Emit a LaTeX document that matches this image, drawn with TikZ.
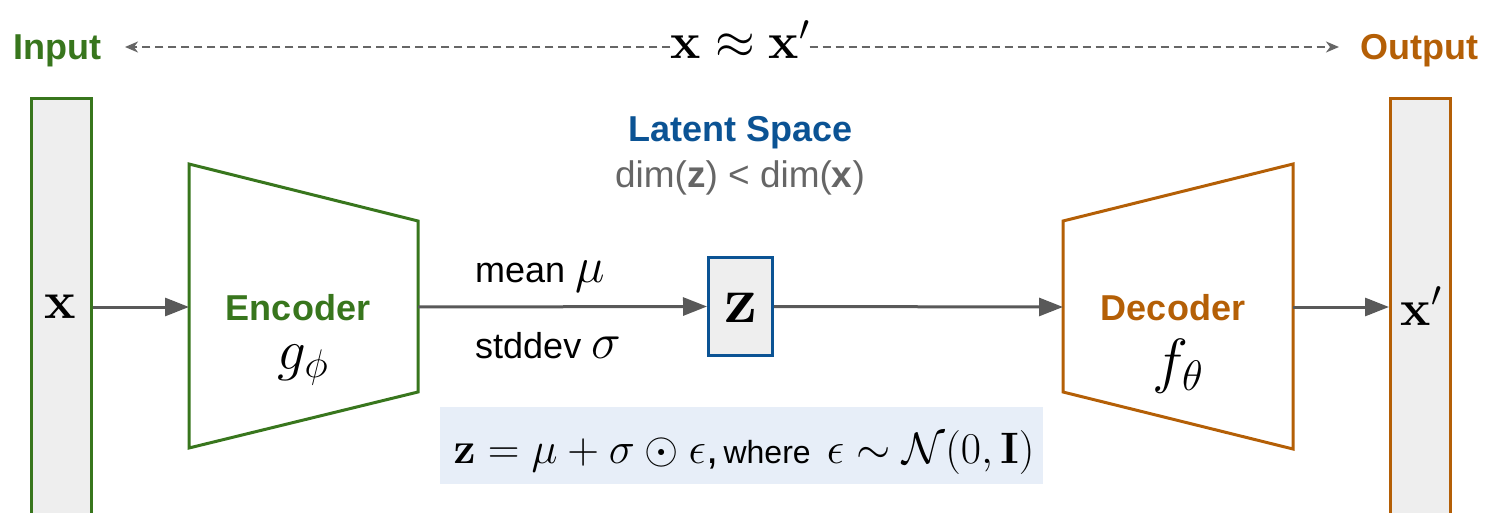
\documentclass[tikz,border=0pt]{standalone}
\usepackage{fix-cm}
\usepackage[no-math]{fontspec}
\setmainfont{Liberation Sans}
\usetikzlibrary{arrows.meta}
\definecolor{encgreen}{HTML}{38761D}
\definecolor{decorange}{HTML}{B45F06}
\definecolor{latblue}{HTML}{0B5394}
\definecolor{arrgray}{HTML}{595959}
\definecolor{txtgray}{HTML}{666666}
\definecolor{barfill}{HTML}{EEEEEE}
\definecolor{eqfill}{HTML}{E7EEF8}
\newcommand{\fsz}[1]{\fontsize{#1}{#1}\selectfont}
\tikzset{
  bar/.style={fill=barfill, line width=3pt, minimum width=60pt, minimum height=431pt, inner sep=0pt},
  arr/.style={draw=arrgray, line width=3pt, -{Triangle[length=24pt,width=18pt]}},
  dasharr/.style={draw=txtgray, line width=2pt, dash pattern=on 8pt off 5pt, -{Stealth[length=13pt,width=11pt,inset=4pt]}},
  lbl/.style={inner sep=0pt, anchor=base},
  coder/.style={line width=3pt, line join=miter}
}
\begin{document}
\begin{tikzpicture}[x=1pt,y=-1pt]
\path[use as bounding box] (0,0) rectangle (1485,513);
\clip (0,0) rectangle (1485,513);

% top row
\node[lbl, text=encgreen] (inlab) at (57,60) {\fsz{36}\bfseries Input};
\node[lbl, text=decorange] (outlab) at (1419,60) {\fsz{36}\bfseries Output};
\node[lbl] (xeq) at (740,59) {\fsz{51}$\mathbf{x}\approx\mathbf{x}'$};
\coordinate (dl) at (125,47);
\coordinate (dr) at (1339,47);
\draw[dasharr] (xeq.west |- dl) -- (dl);
\draw[dasharr] (xeq.east |- dr) -- (dr);

% bars
\node[bar, draw=encgreen] (inbar) at (61,314.5) {};
\node[bar, draw=decorange] (outbar) at (1420.5,314.5) {};
\node[lbl] (xin) at (60,318) {\fsz{53}$\mathbf{x}$};
\node[lbl] (xout) at (1421,325) {\fsz{51}$\mathbf{x}'$};

% encoder
\coordinate (encW) at (189,307);
\coordinate (encE) at (418,307);
\draw[coder, draw=encgreen] (189,164) -- (418,221) -- (418,392) -- (189,448) -- cycle;
\node[lbl, text=encgreen] (enclab) at (298,320) {\fsz{36}\bfseries Encoder};
\node[lbl] (gphi) at (303,369) {\fsz{57}$g_\phi$};

% decoder
\coordinate (decW) at (1063,307);
\coordinate (decE) at (1293,307);
\draw[coder, draw=decorange] (1063,221) -- (1293,164) -- (1293,449) -- (1063,392) -- cycle;
\node[lbl, text=decorange] (declab) at (1173,320) {\fsz{36}\bfseries Decoder};
\node[lbl] (ftheta) at (1178,381) {\fsz{61}$f_\theta$};

% latent
\node[draw=latblue, fill=barfill, line width=3pt, minimum width=64pt, minimum height=98pt, inner sep=0pt] (zbox) at (740.5,306.5) {};
\node[lbl] (zlab) at (741,322) {\fsz{66}$\mathbf{z}$};
\node[lbl, text=latblue] (latent) at (741,142) {\fsz{36}\bfseries Latent Space};
\node[lbl, text=txtgray] (dim) at (740,188) {\fsz{37}dim(\textbf{z}) < dim(\textbf{x})};
\node[inner sep=0pt, anchor=base west] (mean) at (475,282) {\fsz{36}mean \fsz{50}$\mu$};
\node[inner sep=0pt, anchor=base west] (std) at (475,358) {\fsz{36}stddev \fsz{50}$\sigma$};

% connectors
\draw[arr] (inbar.east |- encW) -- (encW);
\draw[arr] (encE) -- (zbox.west);
\draw[arr] (zbox.east) -- (decW);
\draw[arr] (decE) -- (outbar.west |- decE);

% formula
\node[fill=eqfill, minimum width=603pt, minimum height=77pt, inner sep=0pt] (eqbox) at (741.5,445.5) {};
\node[lbl] (eq) at (744,463) {\fsz{44}$\mathbf{z}=\mu+\sigma\odot\epsilon$,\fsz{32}\,where\hspace{16pt}\fsz{44}$\epsilon\sim\mathcal{N}(0,\mathbf{I})$};
\end{tikzpicture}
\end{document}
